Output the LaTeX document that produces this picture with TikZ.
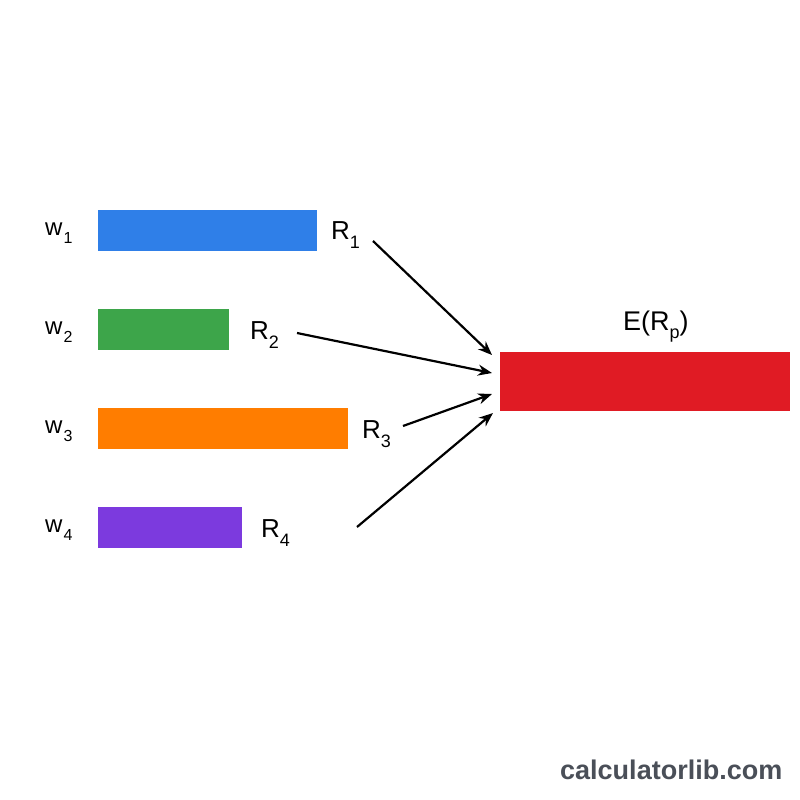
\documentclass[tikz,border=0pt]{standalone}
\usepackage{fontspec}
\setmainfont{Liberation Sans}
\usetikzlibrary{arrows.meta}
\definecolor{cblue}{RGB}{47,127,232}
\definecolor{cgreen}{RGB}{61,165,74}
\definecolor{corange}{RGB}{255,125,0}
\definecolor{cpurple}{RGB}{124,58,222}
\definecolor{cred}{RGB}{224,27,36}
\definecolor{cmark}{RGB}{74,79,88}
\newcommand{\lowsub}[3]{\raisebox{-#2}{\fontsize{#1}{#1}\selectfont #3}}
\newcommand{\wlab}[1]{w\kern1pt\lowsub{16}{8pt}{#1}}
\newcommand{\rlab}[1]{R\lowsub{18}{9pt}{#1}}
\begin{document}
\begin{tikzpicture}[x=1pt,y=-1pt,
  bar/.style={inner sep=0pt, outer sep=0pt, draw=none, anchor=north west},
  wtxt/.style={font=\fontsize{24}{28}\selectfont, inner sep=0pt, anchor=base west},
  rtxt/.style={font=\fontsize{26}{30}\selectfont, inner sep=0pt, anchor=base west},
  arr/.style={line width=2.2pt, -{Stealth[length=14pt,width=11pt]}}]
\path[fill=white] (0,0) rectangle (800,800);
\useasboundingbox (0,0) rectangle (800,800);
% bars
\node[bar, fill=cblue, minimum width=219pt, minimum height=41pt] (b1) at (98,210) {};
\node[bar, fill=cgreen, minimum width=131pt, minimum height=41pt] (b2) at (98,309) {};
\node[bar, fill=corange, minimum width=250pt, minimum height=41pt] (b3) at (98,408) {};
\node[bar, fill=cpurple, minimum width=144pt, minimum height=41pt] (b4) at (98,507) {};
\node[bar, fill=cred, minimum width=290pt, minimum height=59pt] (rp) at (500,352) {};
% weight labels
\node[wtxt] (w1) at (45,235) {\wlab{1}};
\node[wtxt] (w2) at (45,334) {\wlab{2}};
\node[wtxt] (w3) at (45,433) {\wlab{3}};
\node[wtxt] (w4) at (45,532) {\wlab{4}};
% return labels
\node[rtxt] (r1) at (331,239) {\rlab{1}};
\node[rtxt] (r2) at (250,339) {\rlab{2}};
\node[rtxt] (r3) at (362,438) {\rlab{3}};
\node[rtxt] (r4) at (261,537) {\rlab{4}};
\node[rtxt, font=\fontsize{27}{30}\selectfont] (erp) at (623,330) {E(R\lowsub{18}{8pt}{p})};
% arrow endpoints
\coordinate (s1) at (373,241);
\coordinate (s2) at (297,333);
\coordinate (s3) at (403,426);
\coordinate (s4) at (357,527);
\coordinate (t1) at (492,355);
\coordinate (t2) at (492,373);
\coordinate (t3) at (492,394);
\coordinate (t4) at (493,413);
\draw[arr] (s1) -- (t1);
\draw[arr] (s2) -- (t2);
\draw[arr] (s3) -- (t3);
\draw[arr] (s4) -- (t4);
% watermark
\node[inner sep=0pt, anchor=base west, text=cmark, font=\fontsize{27}{30}\selectfont\bfseries] (wm) at (560,779) {calculatorlib.com};
\end{tikzpicture}
\end{document}
